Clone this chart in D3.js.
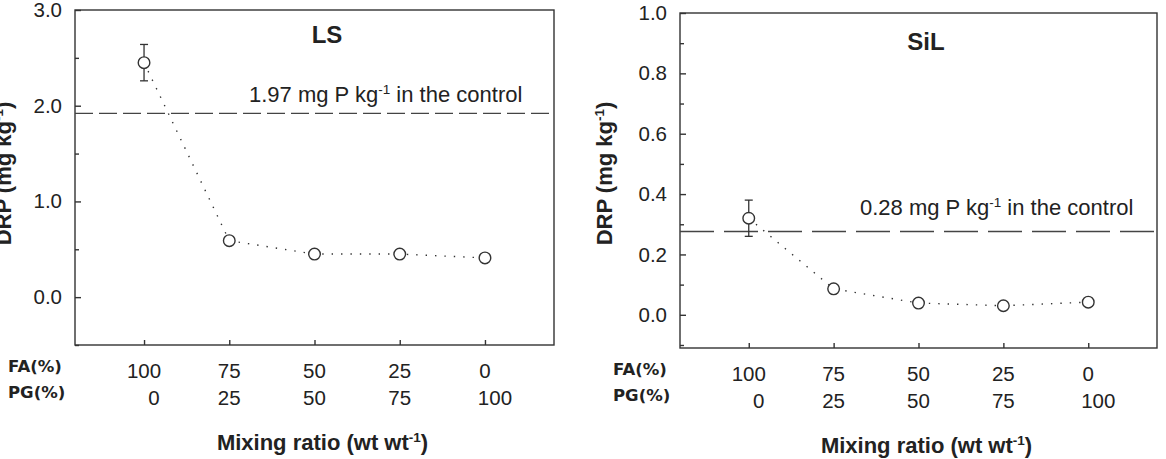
<!DOCTYPE html>
<html>
<head>
<meta charset="utf-8">
<script src="https://cdn.jsdelivr.net/npm/d3@7"></script>
<style>
  body { margin: 0; background: #fff; }
  svg text { font-family: "Liberation Sans", Arial, sans-serif; fill: #222; }
  .axis path, .axis line { stroke: #333; stroke-width: 1.4; }
  .axis text { font-size: 20.5px; fill: #222; }
</style>
</head>
<body>
<svg id="chart" width="1166" height="459"></svg>
<script>
// mixing ratios (x categories)
const faPct = [100, 75, 50, 25, 0];
const pgPct = [0, 25, 50, 75, 100];

// LS soil
const lsMean = [2.45, 0.59, 0.45, 0.45, 0.41];
const lsErr = [0.19, 0, 0, 0, 0];
const lsControl = 1.92;
const lsTicks = [0.0, 1.0, 2.0, 3.0];
const lsMinor = [-0.5, 0.5, 1.5, 2.5];

// SiL soil
const silMean = [0.32, 0.086, 0.039, 0.030, 0.042];
const silErr = [0.06, 0, 0, 0, 0];
const silControl = 0.276;
const silTicks = [0.0, 0.2, 0.4, 0.6, 0.8, 1.0];
const silMinor = [-0.1, 0.1, 0.3, 0.5, 0.7, 0.9];

const svg = d3.select("#chart");

function drawPanel(p) {
    const g = svg.append("g");
    const x = d3.scalePoint()
        .domain(d3.range(faPct.length))
        .range([p.left, p.right])
        .padding(0.81);
    const y = d3.scaleLinear()
        .domain(p.domain)
        .range([p.bottom, p.top]);

    // frame
    g.append("rect")
        .attr("x", p.left).attr("y", p.top)
        .attr("width", p.right - p.left).attr("height", p.bottom - p.top)
        .attr("fill", "none").attr("stroke", "#333").attr("stroke-width", 1.4);

    // y axis, ticks inward
    g.append("g")
        .attr("class", "axis")
        .attr("transform", `translate(${p.left},0)`)
        .call(d3.axisLeft(y).tickValues(p.ticks).tickFormat(d3.format(".1f")).tickSize(-6).tickPadding(13))
        .call(a => a.select(".domain").remove());
    g.append("g")
        .attr("class", "axis")
        .attr("transform", `translate(${p.left},0)`)
        .call(d3.axisLeft(y).tickValues(p.minor).tickFormat("").tickSize(-4))
        .call(a => a.select(".domain").remove());

    // x ticks inward, no labels
    g.append("g")
        .attr("class", "axis")
        .attr("transform", `translate(0,${p.bottom})`)
        .call(d3.axisBottom(x).tickFormat("").tickSize(-5))
        .call(a => a.select(".domain").remove());

    // two-row category labels
    const last = faPct.length - 1;
    g.selectAll(".fa").data(faPct).enter().append("text")
        .attr("class", "fa")
        .attr("x", (d, i) => x(i))
        .attr("y", p.bottom + 33)
        .attr("text-anchor", "middle")
        .style("font-size", "20.5px")
        .text(d => d);
    g.selectAll(".pg").data(pgPct).enter().append("text")
        .attr("class", "pg")
        .attr("x", (d, i) => x(i) + (i === 0 || i === last ? 10 : 0))
        .attr("y", p.bottom + 60)
        .attr("text-anchor", "middle")
        .style("font-size", "20.5px")
        .text(d => d);

    g.append("text")
        .attr("x", p.left - 67).attr("y", p.bottom + 27)
        .style("font-family", "'DejaVu Sans', Verdana, sans-serif")
        .style("font-weight", "bold").style("font-size", "16.5px")
        .text("FA(%)");
    g.append("text")
        .attr("x", p.left - 67).attr("y", p.bottom + 53)
        .style("font-family", "'DejaVu Sans', Verdana, sans-serif")
        .style("font-weight", "bold").style("font-size", "16.5px")
        .text("PG(%)");

    // control line
    g.append("line")
        .attr("x1", p.left).attr("x2", p.right)
        .attr("y1", y(p.control)).attr("y2", y(p.control))
        .attr("stroke", "#444").attr("stroke-width", 1.4)
        .attr("stroke-dasharray", p.dash);
    const ct = g.append("text")
        .attr("x", p.ctrlX).attr("y", y(p.control) - p.ctrlGap)
        .style("font-size", "22px");
    ct.append("tspan").text(p.ctrlText + " mg P kg");
    ct.append("tspan").attr("dy", -8).style("font-size", "13.5px").text("-1");
    ct.append("tspan").attr("dy", 8).text(" in the control");

    // dotted connecting line
    g.append("path")
        .datum(p.mean)
        .attr("fill", "none")
        .attr("stroke", "#333").attr("stroke-width", 1.4)
        .attr("stroke-dasharray", "1.4,8")
        .attr("d", d3.line().x((d, i) => x(i)).y(d => y(d)));

    // error bars
    const bars = p.mean.map((m, i) => ({ i, m, e: p.err[i] })).filter(d => d.e > 0);
    const eb = g.selectAll(".eb").data(bars).enter().append("g");
    eb.append("line")
        .attr("x1", d => x(d.i)).attr("x2", d => x(d.i))
        .attr("y1", d => y(d.m + d.e)).attr("y2", d => y(d.m - d.e))
        .attr("stroke", "#333").attr("stroke-width", 1.3);
    [1, -1].forEach(s => {
        eb.append("line")
            .attr("x1", d => x(d.i) - 4).attr("x2", d => x(d.i) + 4)
            .attr("y1", d => y(d.m + s * d.e)).attr("y2", d => y(d.m + s * d.e))
            .attr("stroke", "#333").attr("stroke-width", 1.3);
    });

    // markers
    g.selectAll(".pt").data(p.mean).enter().append("circle")
        .attr("cx", (d, i) => x(i)).attr("cy", d => y(d))
        .attr("r", 5.8)
        .attr("fill", "#fff").attr("stroke", "#333").attr("stroke-width", 1.4);

    // panel title
    g.append("text")
        .attr("x", p.titleX).attr("y", p.top + p.titleGap)
        .attr("text-anchor", "middle")
        .style("font-weight", "bold").style("font-size", "24px")
        .text(p.title);

    // x axis title
    const xt = g.append("text")
        .attr("x", (p.left + p.right) / 2 + 8).attr("y", p.bottom + 105)
        .attr("text-anchor", "middle")
        .style("font-weight", "bold").style("font-size", "22px");
    xt.append("tspan").text("Mixing ratio (wt wt");
    xt.append("tspan").attr("dy", -8).style("font-size", "13.5px").text("-1");
    xt.append("tspan").attr("dy", 8).text(")");

    // y axis title
    const yt = g.append("text")
        .attr("transform", `translate(${p.left + p.yTitleDx},${(p.top + p.bottom) / 2 + p.yTitleDy}) rotate(-90)`)
        .attr("text-anchor", "middle")
        .style("font-weight", "bold").style("font-size", "22px");
    yt.append("tspan").text("DRP (mg kg");
    yt.append("tspan").attr("dy", -8).style("font-size", "13.5px").text("-1");
    yt.append("tspan").attr("dy", 8).text(")");
}

drawPanel({
    left: 75, right: 554, top: 10, bottom: 345,
    domain: [-0.5, 3.0], ticks: lsTicks, minor: lsMinor,
    mean: lsMean, err: lsErr, control: lsControl, ctrlText: "1.97",
    ctrlX: 249, ctrlGap: 11, dash: "18,6", title: "LS", titleX: 327, titleGap: 33,
    yTitleDx: -64, yTitleDy: -4
});
drawPanel({
    left: 680, right: 1157, top: 13, bottom: 348,
    domain: [-0.11, 1.0], ticks: silTicks, minor: silMinor,
    mean: silMean, err: silErr, control: silControl, ctrlText: "0.28",
    ctrlX: 860, ctrlGap: 17, dash: "34,10", title: "SiL", titleX: 926, titleGap: 37,
    yTitleDx: -68, yTitleDy: -7
});
</script>
</body>
</html>
